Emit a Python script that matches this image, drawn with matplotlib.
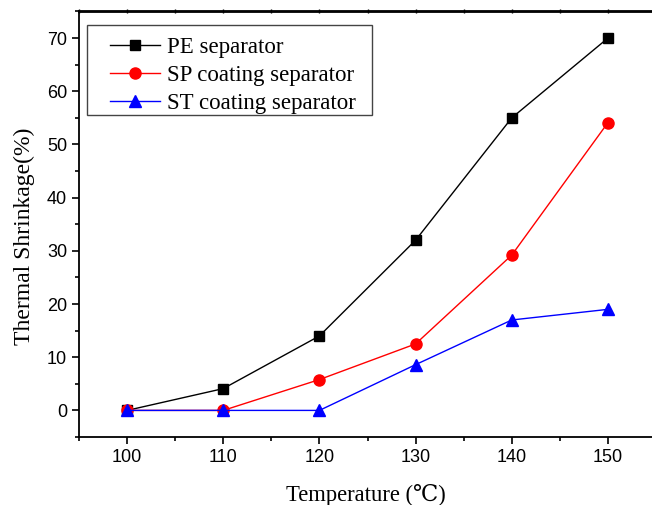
import matplotlib
matplotlib.use("Agg")
import matplotlib.pyplot as plt
from matplotlib.ticker import MultipleLocator
from matplotlib.patches import Rectangle

temperature = [100, 110, 120, 130, 140, 150]
pe_separator = [0, 4.1, 14, 32, 55, 70]
sp_coating = [0, 0, 5.8, 12.5, 29.2, 54.1]
st_coating = [0, 0, 0, 8.6, 17, 19]

serif = ["Liberation Serif", "DejaVu Serif"]
sans = "Liberation Sans"

fig = plt.figure(figsize=(6.52, 5.05), dpi=100)
W, H = 652, 505
left, right, top, bottom = 79, 656, 11.5, 437
ax = fig.add_axes([left / W, 1 - bottom / H, (right - left) / W, (bottom - top) / H])

ax.plot(temperature, pe_separator, color="black", lw=1, marker="s", ms=7,
        label="PE separator")
ax.plot(temperature, sp_coating, color="red", lw=1, marker="o", ms=8,
        label="SP coating separator")
ax.plot(temperature, st_coating, color="blue", lw=1, marker="^", ms=9,
        label="ST coating separator")

ax.set_xlim(95, 155)
ax.set_ylim(-5, 75)
ax.xaxis.set_major_locator(MultipleLocator(10))
ax.xaxis.set_minor_locator(MultipleLocator(5))
ax.yaxis.set_major_locator(MultipleLocator(10))
ax.yaxis.set_minor_locator(MultipleLocator(5))

ax.tick_params(axis="both", which="major", direction="out", length=5, width=1.2,
               labelsize=13, top=False, right=False)
ax.tick_params(axis="both", which="minor", direction="out", length=3, width=1.2,
               top=False, right=False)
for lab in ax.get_xticklabels() + ax.get_yticklabels():
    lab.set_fontfamily(sans)
for sp in ax.spines.values():
    sp.set_linewidth(1.3)

# tiny ticks along the top spine
sec = ax.secondary_xaxis("top")
sec.xaxis.set_major_locator(MultipleLocator(5))
sec.tick_params(axis="x", which="major", direction="inout", length=2.5, width=1,
                labeltop=False)
sec.spines["top"].set_linewidth(1.3)

ax.set_xlabel("Temperature (℃)", fontfamily=serif, fontsize=16.3)
ax.set_ylabel("Thermal Shrinkage(%)", fontfamily=serif, fontsize=17)
ax.xaxis.set_label_coords(0.498, -(484 - bottom) / (bottom - top))
ax.yaxis.set_label_coords((35 - left) / (right - left), 1 - (236 - top) / (bottom - top))

# legend frame (drawn separately to match the reference box)
bx0, by0, bx1, by1 = 87, 25, 372, 115
ax.add_patch(Rectangle((bx0 / W, 1 - by1 / H), (bx1 - bx0) / W, (by1 - by0) / H,
                       transform=fig.transFigure, fill=True, facecolor="white",
                       edgecolor="#444444", linewidth=1, zorder=4, clip_on=False))

leg = ax.legend(loc="upper left",
                bbox_to_anchor=((110 - left) / (right - left), 1 - (37 - top) / (bottom - top)),
                prop={"family": serif, "size": 16.5}, frameon=False,
                borderaxespad=0, handlelength=2.18, labelspacing=0.31, borderpad=0,
                handletextpad=0.3)
leg.set_zorder(5)

fig.savefig("out.png", dpi=100)
